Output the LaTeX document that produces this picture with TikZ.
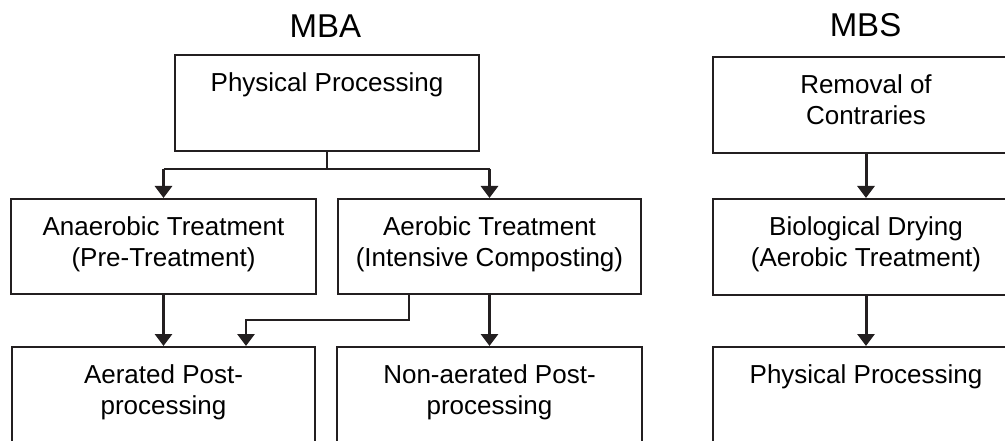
\documentclass[tikz,border=0pt]{standalone}
\usepackage{fontspec}
\setmainfont{Liberation Sans}
\usetikzlibrary{arrows.meta}
\definecolor{lc}{HTML}{231F20}
\begin{document}
\begin{tikzpicture}[x=1pt,y=-1pt,
  box/.style={draw=lc, line width=2pt, inner sep=0pt},
  txt/.style={font=\fontsize{26}{31}\selectfont, align=center, inner sep=0pt, anchor=north, text=black},
  ttl/.style={font=\fontsize{33}{38}\selectfont, inner sep=0pt, anchor=base, text=black},
  arr/.style={draw=lc, line width=3pt, -{Triangle[width=17pt,length=12pt]}},
  ln/.style={draw=lc, line width=2.4pt}]
\clip (0,0) rectangle (1005,441);
\fill[white] (0,0) rectangle (1005,441);
% titles
\node[ttl] (tmba) at (325.5,38) {MBA};
\node[ttl] (tmbs) at (865.5,37) {MBS};
% MBA boxes
\node[box, minimum width=304pt, minimum height=96pt] (p1) at (327,103) {};
\node[box, minimum width=305pt, minimum height=95pt] (a1) at (163.5,246.5) {};
\node[box, minimum width=303pt, minimum height=95pt] (a2) at (489.5,246.5) {};
\node[box, minimum width=303pt, minimum height=110pt] (b1) at (163.5,402) {};
\node[box, minimum width=305pt, minimum height=110pt] (b2) at (489.5,402) {};
% MBS boxes
\node[box, minimum width=306pt, minimum height=96pt] (s1) at (866,105) {};
\node[box, minimum width=306pt, minimum height=96pt] (s2) at (866,247) {};
\node[box, minimum width=306pt, minimum height=110pt] (s3) at (866,402) {};
% texts
\node[txt] (tp1) at ([yshift=-18.5pt]p1.north) {Physical Processing};
\node[txt] (ta1) at ([yshift=-18.5pt]a1.north) {Anaerobic Treatment\\(Pre-Treatment)};
\node[txt] (ta2) at ([yshift=-18.5pt]a2.north) {Aerobic Treatment\\(Intensive Composting)};
\node[txt] (tb1) at ([yshift=-18.5pt]b1.north) {Aerated Post-\\processing};
\node[txt] (tb2) at ([yshift=-18.5pt]b2.north) {Non-aerated Post-\\processing};
\node[txt] (ts1) at ([yshift=-18.5pt]s1.north) {Removal of\\Contraries};
\node[txt] (ts2) at ([yshift=-18.5pt]s2.north) {Biological Drying\\(Aerobic Treatment)};
\node[txt] (ts3) at ([yshift=-18.5pt]s3.north) {Physical Processing};
% connectors
\coordinate (j) at (327,169);
\coordinate (jl) at (a1.north |- j);
\coordinate (jr) at (a2.north |- j);
\draw[ln] (p1.south) -- (j);
\draw[ln] (jl) -- (jr);
\draw[arr] (jl) -- (a1.north);
\draw[arr] (jr) -- (a2.north);
\draw[arr] (a1.south) -- (b1.north);
\coordinate (e1) at ([xshift=-80.5pt]a2.south);
\coordinate (e2) at ([xshift=82.5pt]b1.north);
\draw[ln] (e1) -- ++(0,25) -| ([yshift=10pt]e2);
\draw[arr] ([yshift=11pt]e2) -- (e2);
\draw[arr] (a2.south) -- (b2.north);
\draw[arr] (s1.south) -- (s2.north);
\draw[arr] (s2.south) -- (s3.north);
\end{tikzpicture}
\end{document}
